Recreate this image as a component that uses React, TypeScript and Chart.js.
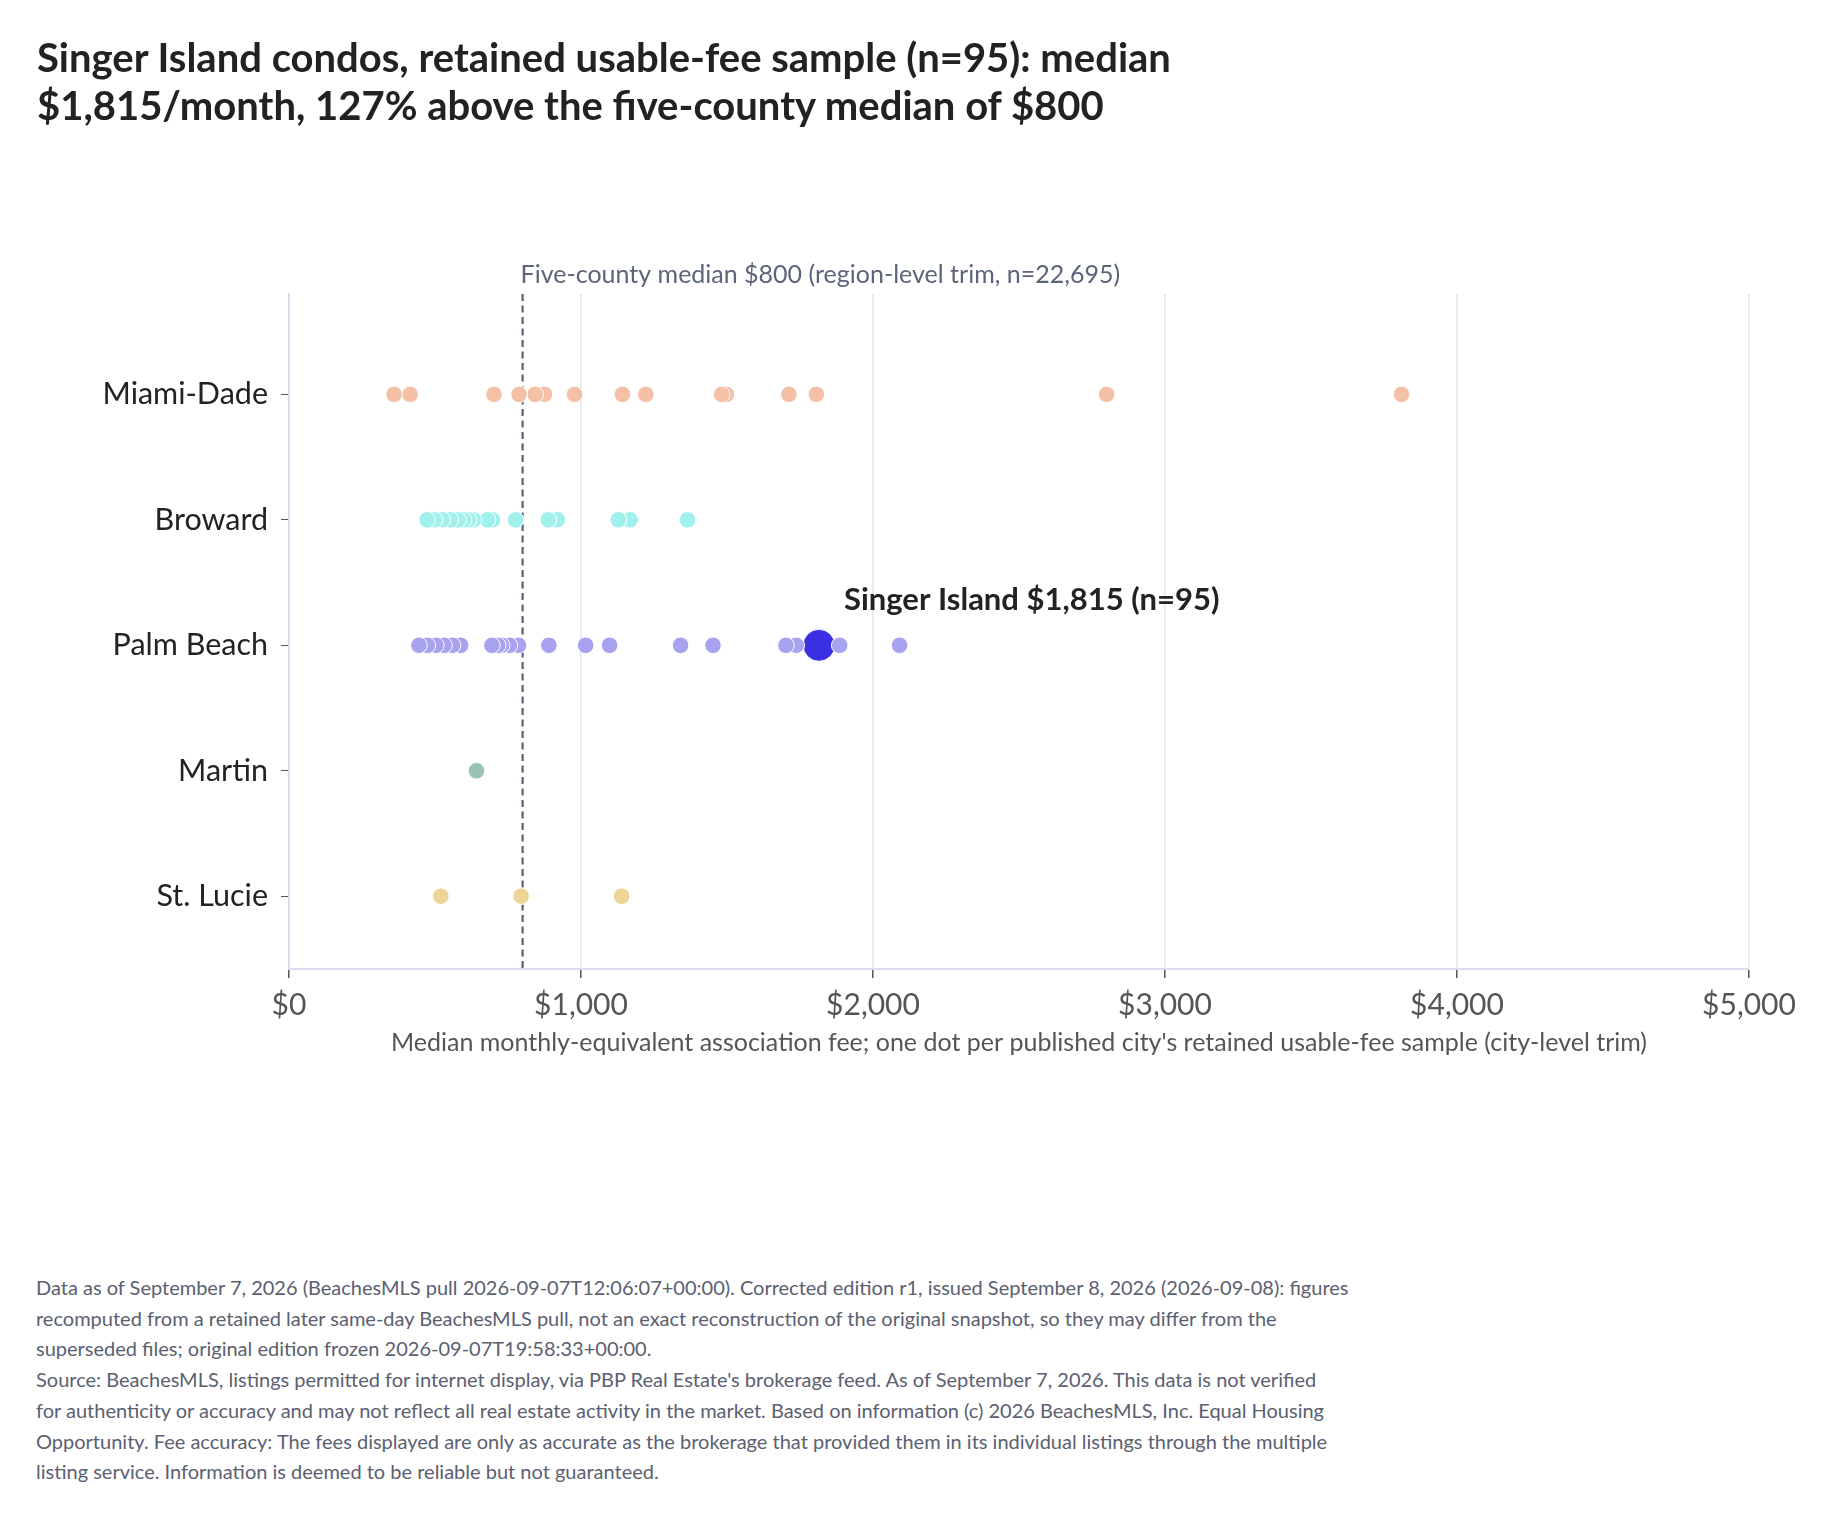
import { useEffect, useRef } from "react"
import { Chart, registerables } from "chart.js"

Chart.register(...registerables)

const counties = ["Miami-Dade", "Broward", "Palm Beach", "Martin", "St. Lucie"]
const countyColors = ["#f4c0a6", "#a0f0ec", "#a7a3f0", "#99c3b3", "#edd497"]

// one value per published city (median monthly fee, $)
const miamiDade = [360, 415, 702, 788, 843, 875, 978, 1142, 1222, 1482, 1498, 1712, 1806, 2800, 3810]
const broward = [473, 499, 525, 553, 579, 598, 615, 632, 680, 697, 776, 888, 919, 1128, 1168, 1365]
const palmBeach = [445, 474, 503, 531, 560, 588, 695, 715, 728, 755, 786, 890, 1016, 1098, 1341, 1452, 1702, 1737, 1886, 2091]
const martin = [642]
const stLucie = [520, 795, 1139]
const countyValues = [miamiDade, broward, palmBeach, martin, stLucie]

const singerIsland = 1815
const singerRow = 2
const regionMedian = 800
const xTicks = [0, 1000, 2000, 3000, 4000, 5000]

const titleLines = [
  "Singer Island condos, retained usable-fee sample (n=95): median",
  "$1,815/month, 127% above the five-county median of $800",
]
const footerLines = [
  "Data as of September 7, 2026 (BeachesMLS pull 2026-09-07T12:06:07+00:00). Corrected edition r1, issued September 8, 2026 (2026-09-08): figures",
  "recomputed from a retained later same-day BeachesMLS pull, not an exact reconstruction of the original snapshot, so they may differ from the",
  "superseded files; original edition frozen 2026-09-07T19:58:33+00:00.",
  "Source: BeachesMLS, listings permitted for internet display, via PBP Real Estate's brokerage feed. As of September 7, 2026. This data is not verified",
  "for authenticity or accuracy and may not reflect all real estate activity in the market. Based on information (c) 2026 BeachesMLS, Inc. Equal Housing",
  "Opportunity. Fee accuracy: The fees displayed are only as accurate as the brokerage that provided them in its individual listings through the multiple",
  "listing service. Information is deemed to be reliable but not guaranteed.",
]

const fmt = (v: number) => "$" + v.toLocaleString("en-US")

const overlay = {
  id: "overlay",
  beforeDatasetsDraw(chart: any) {
    const { ctx, chartArea, scales } = chart
    const x = scales.x.getPixelForValue(regionMedian)
    ctx.save()
    ctx.strokeStyle = "#586277"
    ctx.lineWidth = 2.2
    ctx.setLineDash([7, 4.5])
    ctx.beginPath()
    ctx.moveTo(x, chartArea.top)
    ctx.lineTo(x, chartArea.bottom)
    ctx.stroke()
    ctx.restore()
  },
  afterDatasetsDraw(chart: any) {
    const { ctx, chartArea, scales } = chart
    ctx.save()
    ctx.textBaseline = "middle"
    // median label
    ctx.font = "25px Lato"
    ctx.fillStyle = "#5b6479"
    ctx.textAlign = "left"
    ctx.fillText(
      "Five-county median $800 (region-level trim, n=22,695)",
      scales.x.getPixelForValue(regionMedian) - 2,
      chartArea.top - 19
    )
    // highlight label
    ctx.font = "bold 31px Lato"
    ctx.fillStyle = "#222222"
    ctx.fillText(
      "Singer Island $1,815 (n=95)",
      scales.x.getPixelForValue(singerIsland) + 25,
      scales.y.getPixelForValue(singerRow) - 45
    )
    // x axis title
    ctx.font = "25px Lato"
    ctx.fillStyle = "#555555"
    ctx.textAlign = "center"
    ctx.fillText(
      "Median monthly-equivalent association fee; one dot per published city's retained usable-fee sample (city-level trim)",
      (chartArea.left + chartArea.right) / 2,
      chartArea.bottom + 74
    )
    ctx.restore()
  },
}

function FeeStripChart() {
  const chartRef = useRef<HTMLCanvasElement>(null)
  const chartInstance = useRef<Chart | null>(null)

  useEffect(() => {
    if (!chartRef.current) return
    if (chartInstance.current) chartInstance.current.destroy()

    const datasets: any[] = countyValues.map((vals, i) => ({
      label: counties[i],
      data: [...vals].reverse().map((v) => ({ x: v, y: i })),
      backgroundColor: countyColors[i],
      borderColor: "#ffffff",
      borderWidth: 1,
      pointRadius: 8.3,
    }))
    datasets.push({
      label: "Singer Island",
      data: [{ x: singerIsland, y: singerRow }],
      backgroundColor: "#3a30e2",
      borderColor: "#ffffff",
      borderWidth: 1,
      pointRadius: 16,
    })

    chartInstance.current = new Chart(chartRef.current, {
      type: "scatter",
      data: { datasets },
      options: {
        animation: false,
        responsive: true,
        maintainAspectRatio: false,
        layout: { padding: { left: 0, top: 294, right: 81, bottom: 0 } },
        plugins: { legend: { display: false }, tooltip: { enabled: false } },
        scales: {
          x: {
            type: "linear",
            min: 0,
            max: 5000,
            afterBuildTicks: (scale: any) => {
              scale.ticks = xTicks.map((v) => ({ value: v }))
            },
            afterFit: (scale: any) => {
              scale.height = 111
            },
            ticks: {
              callback: (v: any) => fmt(Number(v)),
              font: { family: "Lato", size: 30 },
              color: "#555555",
              padding: 9,
              maxRotation: 0,
            },
            grid: { color: "#e4e4f0", lineWidth: 1.5, tickLength: 9, tickColor: "#555555" },
            border: { color: "#dcdcec", width: 2 },
          },
          y: {
            type: "linear",
            reverse: true,
            min: -0.8,
            max: 4.58,
            afterBuildTicks: (scale: any) => {
              scale.ticks = counties.map((_, i) => ({ value: i }))
            },
            afterFit: (scale: any) => {
              scale.width = 289
            },
            ticks: {
              callback: (v: any) => counties[Number(v)],
              font: { family: "Lato", size: 30.5 },
              color: "#222222",
              padding: 13,
            },
            grid: { drawOnChartArea: false, tickLength: 8, tickColor: "#555555" },
            border: { color: "#dcdcec", width: 2 },
          },
        },
      },
      plugins: [overlay],
    })

    return () => {
      if (chartInstance.current) {
        chartInstance.current.destroy()
        chartInstance.current = null
      }
    }
  }, [])

  return (
    <div style={{ position: "absolute", left: 0, top: 0, width: 1830, height: 1080 }}>
      <canvas ref={chartRef} />
    </div>
  )
}

export default function App() {
  return (
    <div
      style={{
        position: "absolute",
        left: 0,
        top: 0,
        width: 1830,
        height: 1517,
        background: "#ffffff",
        fontFamily: "Lato",
      }}
    >
      <div
        style={{
          position: "absolute",
          left: 37,
          top: 33,
          fontSize: 40,
          fontWeight: 700,
          lineHeight: "48px",
          color: "#222222",
          whiteSpace: "nowrap",
          zIndex: 1,
        }}
      >
        {titleLines.map((t) => (
          <div key={t}>{t}</div>
        ))}
      </div>
      <FeeStripChart />
      <div
        style={{
          position: "absolute",
          left: 36,
          top: 1272,
          fontSize: 20,
          lineHeight: "30.7px",
          color: "#5a6070",
          whiteSpace: "nowrap",
        }}
      >
        {footerLines.map((t) => (
          <div key={t}>{t}</div>
        ))}
      </div>
    </div>
  )
}
